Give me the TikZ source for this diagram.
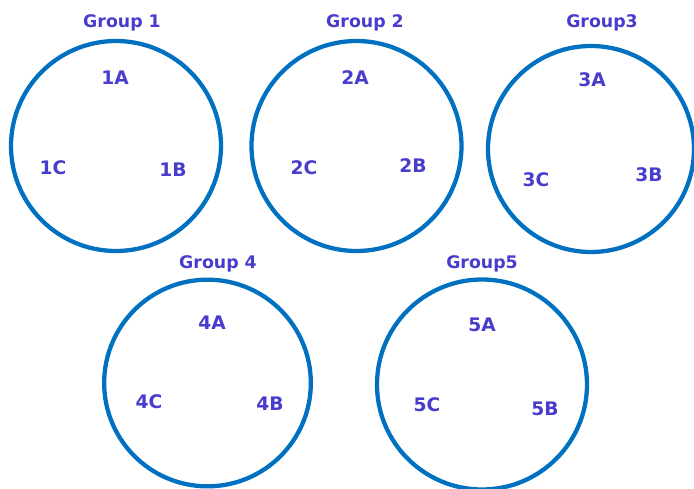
\documentclass[tikz,border=0pt]{standalone}
\usepackage{fontspec}
\setmainfont{DejaVu Sans}
\usepackage{tikz}
\definecolor{ringblue}{RGB}{0,112,192}
\definecolor{tagblue}{RGB}{72,60,204}

\begin{document}
\begin{tikzpicture}[x=0.75pt, y=-0.75pt,
  ring/.style={circle, draw=ringblue, line width=3.2pt, minimum size=157.5pt, inner sep=0pt},
  tag/.style={font=\fontsize{13}{15}\selectfont\bfseries, text=tagblue, inner sep=0pt},
  member/.style={tag, font=\fontsize{14}{16}\selectfont\bfseries}]
  \useasboundingbox (0,0) rectangle (694,489);

  % Circles
  \node[ring] (g1) at (116,146) {};
  \node[ring] (g2) at (356.5,146) {};
  \node[ring, minimum size=154.5pt] (g3) at (591,149) {};
  \node[ring, minimum size=155pt] (g4) at (207.5,383) {};
  \node[ring] (g5) at (482,384.5) {};

  % Headers
  \node[tag] (h1) at (122,23) {Group 1};
  \node[tag] (h2) at (365,23) {Group 2};
  \node[tag] (h3) at (602,23) {Group3};
  \node[tag] (h4) at (218,264) {Group 4};
  \node[tag] (h5) at (482,264) {Group5};

  % Members
  \node[member] (m1a) at (115,78) {1A};
  \node[member] (m1b) at (173,170) {1B};
  \node[member] (m1c) at (53,168) {1C};

  \node[member] (m2a) at (355,78) {2A};
  \node[member] (m2b) at (413,166) {2B};
  \node[member] (m2c) at (304,168) {2C};

  \node[member] (m3a) at (592,80) {3A};
  \node[member] (m3b) at (649,175) {3B};
  \node[member] (m3c) at (536,180) {3C};

  \node[member] (m4a) at (212,323) {4A};
  \node[member] (m4b) at (270,404) {4B};
  \node[member] (m4c) at (149,402) {4C};

  \node[member] (m5a) at (482,325) {5A};
  \node[member] (m5b) at (545,409) {5B};
  \node[member] (m5c) at (427,405) {5C};
\end{tikzpicture}
\end{document}
